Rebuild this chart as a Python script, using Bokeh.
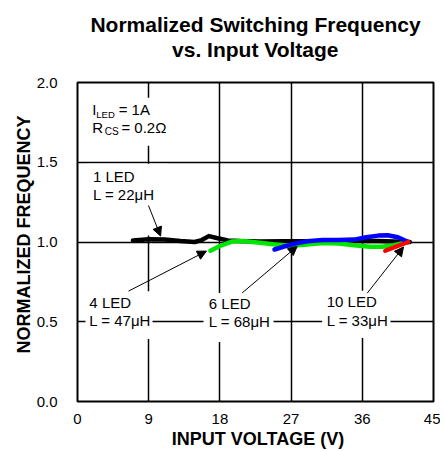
from bokeh.plotting import figure
from bokeh.models import (Label, Arrow, NormalHead, BoxAnnotation, FixedTicker,
                          NumeralTickFormatter, Title)
from bokeh.embed import file_html
from bokeh.resources import INLINE

# ---------------- data ----------------
x_ticks = [0, 9, 18, 27, 36, 45]
y_ticks = [0.0, 0.5, 1.0, 1.5, 2.0]

led1_vin = [7, 9, 11, 13, 14.8, 15.7, 16.6, 17.6, 19, 20.6, 23, 26, 29, 32, 35, 38, 40, 42]
led1_f = [1.01, 1.017, 1.015, 1.006, 1.0, 1.012, 1.037, 1.025, 1.01, 1.006, 1.003, 1.005,
          1.005, 1.005, 1.006, 1.006, 1.003, 1.0]

led4_vin = [16.8, 18, 19.5, 21, 23, 25, 27, 29, 31, 33, 35, 37, 38.5, 40, 41.8]
led4_f = [0.945, 0.975, 1.003, 1.006, 0.996, 0.985, 0.976, 0.985, 0.993, 0.99, 0.98,
          0.97, 0.97, 0.98, 1.0]

led6_vin = [24.9, 26, 27.5, 29, 31, 33, 35, 36.5, 38, 39.2, 40.5, 41.8]
led6_f = [0.953, 0.97, 0.99, 1.005, 1.012, 1.012, 1.015, 1.03, 1.04, 1.042, 1.03, 1.0]

led10_vin = [38.9, 41.8]
led10_f = [0.945, 1.0]

title_lines = ["Normalized Switching Frequency", "vs. Input Voltage"]

FONT = "Liberation Sans"
NB = "\u00a0"

p = figure(width=440, height=451, x_range=(0, 45), y_range=(0, 2),
           output_backend="svg", toolbar_location=None, title=None,
           min_border_left=77, min_border_right=7, min_border_top=82,
           min_border_bottom=49)
p.background_fill_color = "white"
p.border_fill_color = "white"
p.outline_line_color = "black"
p.outline_line_width = 2

# small invisible spacer next to the frame, then the two-line title above it
p.add_layout(Title(text=NB, text_font=FONT, text_font_size="6px", standoff=3), "above")
p.add_layout(Title(text=title_lines[0] + "\n" + NB * 14 + title_lines[1], align="center",
                   text_font=FONT, text_font_size="21px", text_font_style="bold",
                   text_color="black", text_line_height=1.1, offset=-2, standoff=20),
             "above")

p.xaxis.ticker = FixedTicker(ticks=x_ticks)
p.yaxis.ticker = FixedTicker(ticks=y_ticks)
p.yaxis.formatter = NumeralTickFormatter(format="0.0")
for ax in (p.xaxis[0], p.yaxis[0]):
    ax.axis_line_color = None
    ax.major_tick_line_color = None
    ax.minor_tick_line_color = None
    ax.major_label_text_font = FONT
    ax.major_label_text_font_size = "15px"
    ax.major_label_text_color = "black"
    ax.axis_label_text_font = FONT
    ax.axis_label_text_font_size = "18px"
    ax.axis_label_text_font_style = "bold"
    ax.axis_label_text_color = "black"
p.yaxis.major_label_standoff = 14
p.xaxis.major_label_standoff = 6
p.xaxis.axis_label = NB + "INPUT VOLTAGE (V)"
p.xaxis.axis_label_standoff = 2
p.yaxis.axis_label = NB * 3 + "NORMALIZED FREQUENCY"
p.yaxis.axis_label_standoff = 0

p.xgrid.grid_line_color = "black"
p.ygrid.grid_line_color = "black"
p.xgrid.grid_line_width = 1.5
p.ygrid.grid_line_width = 1.5

# white boxes behind annotation texts (interrupt grid)
boxes = [(1.39, 11.76, 1.904, 1.604),
         (1.2, 11.5, 1.49, 1.04),
         (1.01, 9.48, 0.692, 0.392),
         (15.93, 24.78, 0.68, 0.373),
         (30.93, 39.56, 0.694, 0.398)]
for l, r, t, b in boxes:
    p.add_layout(BoxAnnotation(left=l, right=r, top=t, bottom=b, fill_color="white",
                               fill_alpha=1, line_color=None, level="underlay"))

# curves
for xs, ys, c in [(led1_vin, led1_f, "black"), (led4_vin, led4_f, "#00e600"),
                  (led6_vin, led6_f, "#0000ff"), (led10_vin, led10_f, "#ff0000")]:
    p.line(xs, ys, line_color=c, line_width=4.5, line_join="round", line_cap="round")

# arrows
arrows = [((8.97, 1.229), (10.5, 1.037)),
          ((6.45, 0.692), (16.3, 0.943)),
          ((20.82, 0.681), (27.77, 0.973)),
          ((36.62, 0.679), (41.21, 0.969))]
for (x0, y0), (x1, y1) in arrows:
    p.add_layout(Arrow(x_start=x0, y_start=y0, x_end=x1, y_end=y1, line_width=1,
                       line_color="black",
                       end=NormalHead(size=9, fill_color="black", line_color="black")))


def txt(x, y, s, size="15px"):
    p.add_layout(Label(x=x, y=y, text=s, text_font=FONT, text_font_size=size,
                       text_align="left", text_baseline="middle", text_color="black"))


# condition texts with subscripts
txt(1.85, 1.829, "I")
txt(2.38, 1.801, "LED", size="9.5px")
txt(5.2, 1.829, "= 1A")
txt(1.85, 1.717, "R")
txt(3.45, 1.692, "CS", size="10px")
txt(5.55, 1.717, "= 0.2Ω")

txt(1.95, 1.411, "1 LED")
txt(1.95, 1.297, "L = 22μH")
txt(1.5, 0.619, "4  LED")
txt(1.5, 0.506, "L = 47μH")
txt(16.6, 0.6125, "6 LED")
txt(16.6, 0.5, "L = 68μH")
txt(31.5, 0.625, "10 LED")
txt(31.5, 0.506, "L = 33μH")

open("out.html", "w").write(file_html(p, INLINE))
